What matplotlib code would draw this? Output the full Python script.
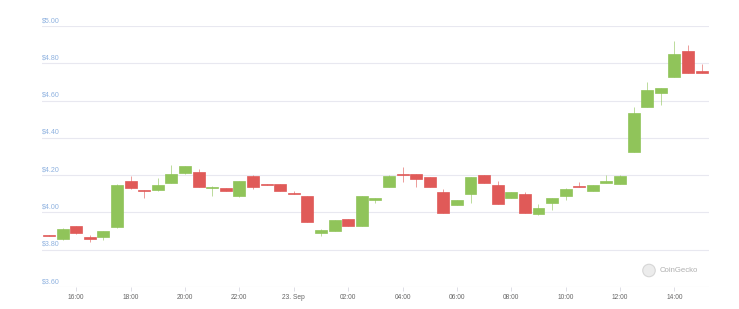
import matplotlib
matplotlib.use("Agg")
import matplotlib.pyplot as plt
import matplotlib.dates as mdates
from matplotlib.patches import Ellipse
import numpy as np
import pandas as pd

# ---- data ----
times = pd.date_range("2019-09-22 15:00", periods=49, freq="30min")
opens = [3.878, 3.855, 3.927, 3.868, 3.868, 3.920, 4.166, 4.120, 4.118, 4.159,
         4.209, 4.218, 4.130, 4.129, 4.087, 4.198, 4.152, 4.150, 4.102, 4.087,
         3.887, 3.900, 3.966, 3.928, 4.066, 4.136, 4.207, 4.207, 4.188, 4.107,
         4.039, 4.098, 4.200, 4.148, 4.080, 4.098, 3.989, 4.048, 4.089, 4.141,
         4.116, 4.157, 4.155, 4.325, 4.568, 4.638, 4.725, 4.867, 4.759]
highs = [3.879, 3.915, 3.928, 3.877, 3.900, 4.150, 4.198, 4.122, 4.184, 4.254,
         4.250, 4.234, 4.142, 4.130, 4.168, 4.200, 4.155, 4.151, 4.116, 4.089,
         3.909, 3.958, 3.967, 4.088, 4.080, 4.199, 4.241, 4.208, 4.189, 4.123,
         4.067, 4.190, 4.202, 4.168, 4.108, 4.107, 4.045, 4.079, 4.129, 4.164,
         4.149, 4.202, 4.199, 4.563, 4.699, 4.669, 4.918, 4.897, 4.797]
lows = [3.876, 3.853, 3.886, 3.842, 3.851, 3.918, 4.128, 4.080, 4.117, 4.158,
        4.207, 4.136, 4.087, 4.115, 4.085, 4.123, 4.145, 4.115, 4.097, 3.948,
        3.873, 3.899, 3.927, 3.927, 4.048, 4.135, 4.161, 4.137, 4.136, 3.996,
        4.038, 4.048, 4.156, 4.045, 4.079, 3.995, 3.988, 4.012, 4.066, 4.136,
        4.115, 4.156, 4.154, 4.324, 4.567, 4.575, 4.724, 4.746, 4.746]
closes = [3.876, 3.909, 3.888, 3.856, 3.898, 4.148, 4.129, 4.117, 4.148, 4.205,
          4.248, 4.137, 4.139, 4.116, 4.166, 4.137, 4.148, 4.116, 4.098, 3.950,
          3.907, 3.957, 3.928, 4.087, 4.078, 4.198, 4.203, 4.180, 4.137, 3.998,
          4.066, 4.188, 4.157, 4.046, 4.107, 3.996, 4.025, 4.078, 4.127, 4.137,
          4.148, 4.166, 4.198, 4.536, 4.656, 4.668, 4.849, 4.747, 4.747]
y_ticks = [3.60, 3.80, 4.00, 4.20, 4.40, 4.60, 4.80, 5.00]
x_tick_times = pd.to_datetime(["2019-09-22 16:00", "2019-09-22 18:00", "2019-09-22 20:00",
                               "2019-09-22 22:00", "2019-09-23 00:00", "2019-09-23 02:00",
                               "2019-09-23 04:00", "2019-09-23 06:00", "2019-09-23 08:00",
                               "2019-09-23 10:00", "2019-09-23 12:00", "2019-09-23 14:00"])
x_tick_labels = ["16:00", "18:00", "20:00", "22:00", "23. Sep", "02:00",
                 "04:00", "06:00", "08:00", "10:00", "12:00", "14:00"]

GREEN = "#90c45a"
RED = "#e05a58"
GRID = "#e8e8f0"

W, H = 739, 309
fig = plt.figure(figsize=(W / 100, H / 100), dpi=100)
fig.patch.set_facecolor("white")
left, right, top, bottom = 42, 708.7, 26, 287
ax = fig.add_axes([left / W, 1 - bottom / H, (right - left) / W, (bottom - top) / H])
ax.set_facecolor("white")

x = mdates.date2num(times)
step = x[1] - x[0]
width = step * 0.88
o = np.array(opens); c = np.array(closes); h = np.array(highs); l = np.array(lows)
up = c >= o
colors = np.where(up, GREEN, RED)

ax.vlines(x, l, h, colors=colors, linewidth=0.6, alpha=0.7, zorder=2)
body_bottom = np.minimum(o, c)
body_h = np.maximum(np.abs(c - o), 0.003)
ax.bar(x, body_h, bottom=body_bottom, width=width, color=colors,
       edgecolor=colors, linewidth=0.5, zorder=3)

ax.set_ylim(3.60, 5.00)
ax.set_xlim(x[0] - step * 0.52, x[-1] + step * 0.52)

# grid
for yt in y_ticks:
    ax.axhline(yt, color=GRID if yt > 3.6 else "#dcdce4", linewidth=0.8, zorder=0)
    ax.text(0.0, yt + 0.01, "${:.2f}".format(yt), transform=ax.get_yaxis_transform(),
            ha="left", va="bottom", fontsize=5.1, color="#8fb2e0",
            family="Liberation Sans", zorder=1)

for s in ax.spines.values():
    s.set_visible(False)
ax.set_yticks([])
ax.set_xticks(mdates.date2num(x_tick_times))
ax.set_xticklabels(x_tick_labels, fontsize=4.8, color="#666666", family="Liberation Sans")
ax.tick_params(axis="x", length=3, width=0.6, color="#d8d8e0", pad=2)

# watermark
cx, cy, d = 649, 270.5, 12.5
logo = Ellipse((cx / W, 1 - cy / H), d / W, d / H, transform=fig.transFigure,
               facecolor="#ececec", edgecolor="#d6d6d6", linewidth=0.8, zorder=5)
fig.patches.append(logo)
fig.text(660 / W, 1 - 270.5 / H, "CoinGecko", ha="left", va="center",
         fontsize=5.6, color="#b0b0b0", family="Liberation Sans")

fig.savefig("out.png", dpi=100, facecolor="white")
